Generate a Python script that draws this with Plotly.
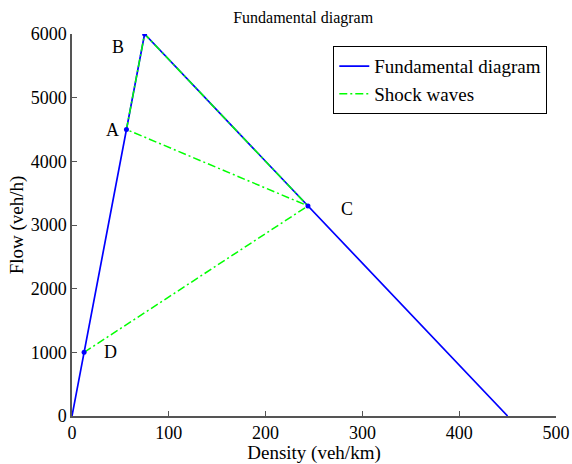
import plotly.graph_objects as go

# Triangular fundamental diagram: density (veh/km) vs flow (veh/h)
fd_density = [0, 75, 450]
fd_flow = [0, 6000, 0]

# Traffic states on the diagram
state_names = ["A", "B", "C", "D"]
state_density = [56.25, 75, 243.75, 12.5]
state_flow = [4500, 6000, 3300, 1000]

# Shock wave connections drawn as one path: D-C, C-A, A-B, B-C
shock_density = [12.5, 243.75, 56.25, 75, 243.75]
shock_flow = [1000, 3300, 4500, 6000, 3300]

# Label offsets (in data units) for each state letter
label_dx = [-14, -28, 40, 27]
label_dy = [0, -200, -50, 0]

x_ticks = [0, 100, 200, 300, 400, 500]
y_ticks = [0, 1000, 2000, 3000, 4000, 5000, 6000]

serif = "Liberation Serif, Times New Roman, serif"

fig = go.Figure()
fig.add_trace(go.Scatter(
    x=fd_density, y=fd_flow, mode="lines", name="Fundamental diagram",
    line=dict(color="#0000FF", width=1.7),
))
fig.add_trace(go.Scatter(
    x=shock_density, y=shock_flow, mode="lines", name="Shock waves",
    line=dict(color="#00FF00", width=1.5, dash="8px,3px,2px,3px"),
))
fig.add_trace(go.Scatter(
    x=state_density, y=state_flow, mode="markers", showlegend=False,
    marker=dict(color="#0000FF", size=5),
))

for name, k, q, dx, dy in zip(state_names, state_density, state_flow, label_dx, label_dy):
    fig.add_annotation(
        x=k + dx, y=q + dy, text=name, showarrow=False,
        font=dict(family=serif, size=18, color="black"),
    )

fig.update_layout(
    width=572, height=464,
    margin=dict(l=72, r=16, t=34, b=48),
    paper_bgcolor="white", plot_bgcolor="white",
    title=dict(text="Fundamental diagram", x=0.53, xanchor="center",
               y=0.962, yanchor="middle",
               font=dict(family=serif, size=16, color="black")),
    font=dict(family=serif, size=18, color="black"),
    legend=dict(x=0.982, xanchor="right", y=0.968, yanchor="top",
                bordercolor="black", borderwidth=1, bgcolor="white",
                font=dict(family=serif, size=19), tracegroupgap=0,
                itemwidth=30),
    showlegend=True,
)
fig.update_xaxes(
    range=[0, 500], tickvals=x_ticks, ticks="inside", ticklen=5,
    showline=True, linecolor="#555555", linewidth=1.5, tickcolor="#555555",
    showgrid=False, zeroline=False, automargin=False,
    tickfont=dict(family=serif, size=18),
    title=dict(text="Density (veh/km)", standoff=2, font=dict(family=serif, size=19)),
)
fig.update_yaxes(
    range=[0, 6000], tickvals=y_ticks, ticks="inside", ticklen=5,
    showline=True, linecolor="#555555", linewidth=1.5, tickcolor="#555555",
    showgrid=False, zeroline=False, automargin=False,
    tickfont=dict(family=serif, size=18),
    title=dict(text="Flow (veh/h)", standoff=2, font=dict(family=serif, size=19)),
)

fig.write_html("out.html")
